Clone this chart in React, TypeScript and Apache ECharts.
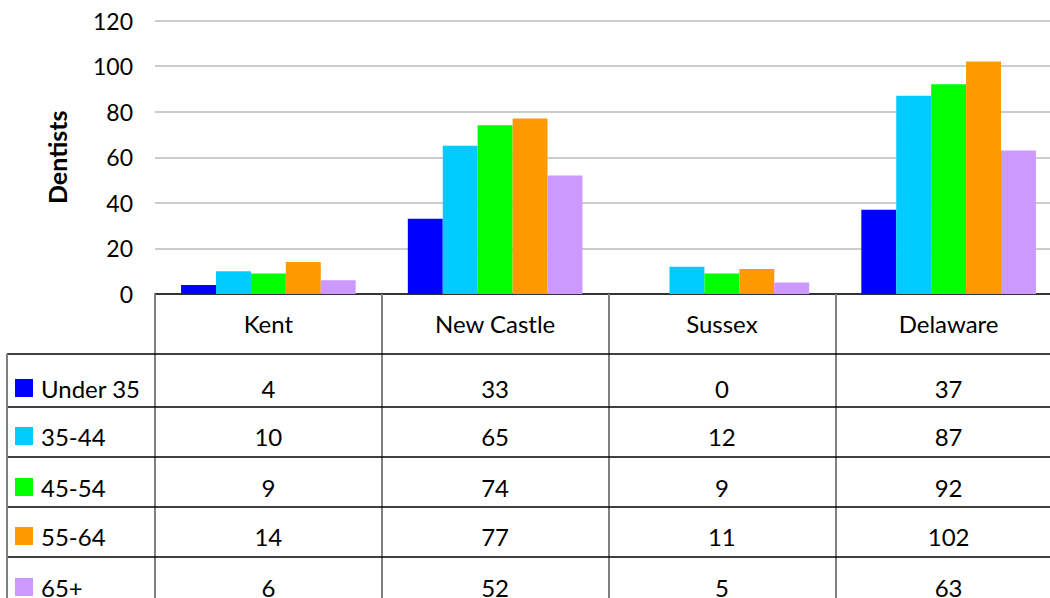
import React, { useEffect, useRef } from "react";
import * as echarts from "echarts";

const categories = ["Kent", "New Castle", "Sussex", "Delaware"];
const seriesNames = ["Under 35", "35-44", "45-54", "55-64", "65+"];
const under35 = [4, 33, 0, 37];
const age35to44 = [10, 65, 12, 87];
const age45to54 = [9, 74, 9, 92];
const age55to64 = [14, 77, 11, 102];
const age65plus = [6, 52, 5, 63];
const seriesData = [under35, age35to44, age45to54, age55to64, age65plus];
const colors = ["#0000FF", "#00CCFF", "#00FF00", "#FF9900", "#CC99FF"];
const yTicks = [0, 20, 40, 60, 80, 100, 120];

const FONT = "Lato, 'Open Sans', sans-serif";
const TFS = 24;

export default function App() {
  const ref = useRef<HTMLDivElement>(null);
  useEffect(() => {
    if (!ref.current) return;
    const chart = echarts.init(ref.current, null, { renderer: "svg" });
    const gridLeft = 155;
    const gridTop = 20.5;
    const axisY = 294;
    const H = 598;
    chart.setOption({
      animation: false,
      textStyle: { fontFamily: FONT },
      grid: { left: gridLeft, right: 0, top: gridTop, bottom: H - axisY, containLabel: false },
      xAxis: {
        type: "category",
        data: categories,
        axisLine: { show: true, lineStyle: { color: "#000", width: 1.5 } },
        axisTick: { show: true, length: H - axisY, inside: false, lineStyle: { color: "#808080", width: 2 } },
        axisLabel: { fontSize: TFS, color: "#000", margin: 17, fontFamily: FONT },
        splitLine: { show: false },
      },
      yAxis: {
        type: "value",
        min: yTicks[0],
        max: yTicks[yTicks.length - 1],
        interval: 20,
        name: "Dentists",
        nameLocation: "middle",
        nameRotate: 90,
        nameGap: 86,
        nameTextStyle: { fontSize: 25, fontWeight: "bold", color: "#000", fontFamily: FONT },
        axisLine: { show: false },
        axisTick: { show: false },
        axisLabel: { fontSize: 23, color: "#000", margin: 22, fontFamily: FONT },
        splitLine: { show: true, lineStyle: { color: "#cccccc", width: 2 } },
      },
      series: seriesNames.map((name, i) => ({
        name,
        type: "bar",
        data: seriesData[i],
        barGap: "0%",
        barCategoryGap: "23%",
        itemStyle: { color: colors[i] },
      })),
    });

    // data table below the axis
    const rowLines = [354, 407, 457, 507, 557];
    const rowText = [388, 436, 487, 536, 587];
    const graphics: any[] = [];
    rowLines.forEach((y) => {
      graphics.push({
        type: "line",
        shape: { x1: 7, y1: y, x2: 1062, y2: y },
        style: { stroke: "#000", lineWidth: 1.5 },
        z: 10,
      });
    });
    graphics.push({
      type: "line",
      shape: { x1: 7, y1: 354, x2: 7, y2: H },
      style: { stroke: "#808080", lineWidth: 2 },
      z: 10,
    });
    seriesNames.forEach((name, r) => {
      const cy = rowText[r];
      graphics.push({
        type: "rect",
        shape: { x: 15, y: cy - 9, width: 18, height: 18 },
        style: { fill: colors[r] },
        z: 11,
      });
      graphics.push({
        type: "text",
        x: 41,
        y: cy,
        style: {
          text: name,
          fontSize: TFS,
          fontFamily: FONT,
          fill: "#000",
          align: "left",
          verticalAlign: "middle",
        },
        z: 11,
      });
      categories.forEach((_, c) => {
        const px = chart.convertToPixel({ xAxisIndex: 0 }, c) as number;
        graphics.push({
          type: "text",
          x: px,
          y: cy,
          style: {
            text: String(seriesData[r][c]),
            fontSize: TFS,
            fontFamily: FONT,
            fill: "#000",
            align: "center",
            verticalAlign: "middle",
          },
          z: 11,
        });
      });
    });
    chart.setOption({ graphic: graphics });
    return () => chart.dispose();
  }, []);
  return (
    <div style={{ position: "fixed", left: 0, top: 0, width: 1050, height: 598, overflow: "hidden", background: "#fff" }}>
      <div ref={ref} style={{ width: 1062, height: 598 }} />
    </div>
  );
}
